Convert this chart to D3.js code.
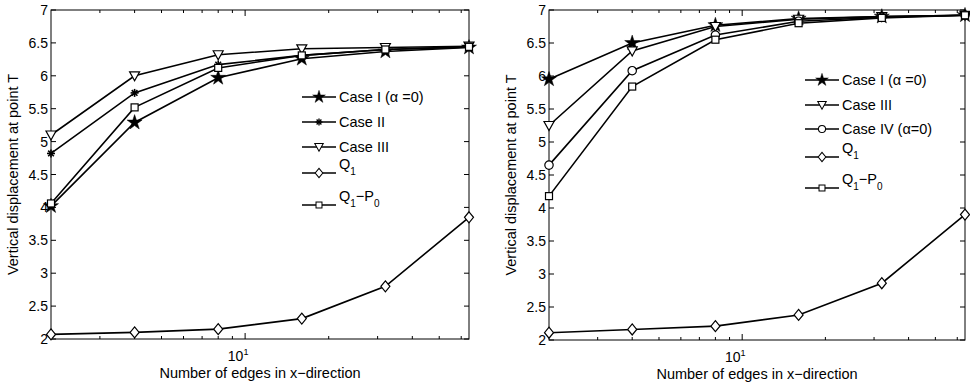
<!DOCTYPE html>
<html>
<head>
<meta charset="utf-8">
<script src="https://cdn.jsdelivr.net/npm/d3@7"></script>
<style>
  body { margin: 0; background: #fff; }
  svg { font-family: "Liberation Sans", Arial, sans-serif; }
</style>
</head>
<body>
<svg id="chart" width="970" height="385"></svg>
<script>
// [A] Datos ------------------------------------------------------------------
const edges = [2, 4, 8, 16, 32, 64];
const yTicks = [2, 2.5, 3, 3.5, 4, 4.5, 5, 5.5, 6, 6.5, 7];

// Panel izquierdo
const leftCaseI   = [4.02, 5.29, 5.97, 6.26, 6.37, 6.43];
const leftCaseII  = [4.82, 5.74, 6.17, 6.31, 6.40, 6.44];
const leftCaseIII = [5.10, 6.00, 6.32, 6.41, 6.43, 6.45];
const leftQ1      = [2.07, 2.10, 2.15, 2.31, 2.80, 3.85];
const leftQ1P0    = [4.06, 5.52, 6.12, 6.31, 6.40, 6.44];

// Panel derecho
const rightCaseI   = [5.95, 6.50, 6.77, 6.87, 6.90, 6.92];
const rightCaseIII = [5.25, 6.38, 6.75, 6.86, 6.90, 6.92];
const rightCaseIV  = [4.65, 6.08, 6.62, 6.83, 6.89, 6.92];
const rightQ1      = [2.11, 2.16, 2.21, 2.38, 2.86, 3.90];
const rightQ1P0    = [4.18, 5.84, 6.55, 6.80, 6.88, 6.92];

const panels = [
  {
    box: { x0: 51, x1: 469, y0: 10, y1: 339 },
    legend: { x: 302, rows: [97, 122, 147, 173, 205] },
    series: [
      { name: ["Case I (\u03b1 =0)"], marker: "star", values: leftCaseI },
      { name: ["Case II"], marker: "asterisk", values: leftCaseII },
      { name: ["Case III"], marker: "triangle", values: leftCaseIII },
      { name: ["Q", "1"], marker: "diamond", values: leftQ1 },
      { name: ["Q", "1", "\u2212P", "0"], marker: "square", values: leftQ1P0 }
    ]
  },
  {
    box: { x0: 549, x1: 965, y0: 10, y1: 340 },
    legend: { x: 805, rows: [80, 105, 129, 157, 188] },
    series: [
      { name: ["Case I (\u03b1 =0)"], marker: "star", values: rightCaseI },
      { name: ["Case III"], marker: "triangle", values: rightCaseIII },
      { name: ["Case IV (\u03b1=0)"], marker: "circle", values: rightCaseIV },
      { name: ["Q", "1"], marker: "diamond", values: rightQ1 },
      { name: ["Q", "1", "\u2212P", "0"], marker: "square", values: rightQ1P0 }
    ]
  }
];

const svg = d3.select("#chart");

// [B] Marcadores estilo MATLAB -------------------------------------------------
function drawMarker(g, type, x, y, k = 1) {
  const m = g.append("g").attr("transform", `translate(${x},${y}) scale(${k})`);
  if (type === "star") {
    m.append("path").attr("d", d3.symbol(d3.symbolStar, 70)())
      .attr("fill", "#000").attr("stroke", "#000").attr("stroke-width", 0.5);
  } else if (type === "asterisk") {
    const r = 4;
    [0, 45, 90, 135].forEach(a => {
      const rad = a * Math.PI / 180;
      m.append("line")
        .attr("x1", -r * Math.cos(rad)).attr("y1", -r * Math.sin(rad))
        .attr("x2", r * Math.cos(rad)).attr("y2", r * Math.sin(rad))
        .attr("stroke", "#000").attr("stroke-width", 1.6);
    });
  } else if (type === "triangle") {
    m.append("path").attr("d", "M-5,-4L5,-4L0,5Z")
      .attr("fill", "#fff").attr("stroke", "#000").attr("stroke-width", 1.2);
  } else if (type === "diamond") {
    m.append("path").attr("d", "M0,-5.5L4.5,0L0,5.5L-4.5,0Z")
      .attr("fill", "#fff").attr("stroke", "#000").attr("stroke-width", 1.2);
  } else if (type === "square") {
    m.append("rect").attr("x", -3.5).attr("y", -3.5).attr("width", 7).attr("height", 7)
      .attr("fill", "#fff").attr("stroke", "#000").attr("stroke-width", 1.2);
  } else if (type === "circle") {
    m.append("circle").attr("r", 4.2)
      .attr("fill", "#fff").attr("stroke", "#000").attr("stroke-width", 1.2);
  }
}

// [C] Dibuja cada panel ---------------------------------------------------------
panels.forEach(panel => {
  const { box } = panel;
  const g = svg.append("g");

  const x = d3.scaleLog().domain([2, 64]).range([box.x0, box.x1]);
  const y = d3.scaleLinear().domain([2, 7]).range([box.y1, box.y0]);

  // Marco
  g.append("rect")
    .attr("x", box.x0).attr("y", box.y0)
    .attr("width", box.x1 - box.x0).attr("height", box.y1 - box.y0)
    .attr("fill", "none").attr("stroke", "#000").attr("stroke-width", 1);

  // Ticks Y (izquierda y derecha, hacia dentro)
  yTicks.forEach(t => {
    const yy = y(t);
    g.append("line").attr("x1", box.x0).attr("x2", box.x0 + 5)
      .attr("y1", yy).attr("y2", yy).attr("stroke", "#000");
    g.append("line").attr("x1", box.x1).attr("x2", box.x1 - 5)
      .attr("y1", yy).attr("y2", yy).attr("stroke", "#000");
    g.append("text")
      .attr("x", box.x0 - 3).attr("y", yy + 5)
      .attr("text-anchor", "end").attr("font-size", 14)
      .text(d3.format("")(t));
  });

  // Ticks X (log, menores y mayor en 10)
  const xMinor = [3, 4, 5, 6, 7, 8, 9, 20, 30, 40, 50, 60];
  xMinor.forEach(t => {
    const xx = x(t);
    g.append("line").attr("x1", xx).attr("x2", xx)
      .attr("y1", box.y1).attr("y2", box.y1 - 3).attr("stroke", "#000");
    g.append("line").attr("x1", xx).attr("x2", xx)
      .attr("y1", box.y0).attr("y2", box.y0 + 3).attr("stroke", "#000");
  });
  const x10 = x(10);
  g.append("line").attr("x1", x10).attr("x2", x10)
    .attr("y1", box.y1).attr("y2", box.y1 - 6).attr("stroke", "#000");
  g.append("line").attr("x1", x10).attr("x2", x10)
    .attr("y1", box.y0).attr("y2", box.y0 + 6).attr("stroke", "#000");
  const lbl = g.append("text")
    .attr("x", x10 - 7).attr("y", box.y1 + 22)
    .attr("text-anchor", "middle").attr("font-size", 14);
  lbl.append("tspan").text("10");
  lbl.append("tspan").attr("dy", -6).attr("font-size", 9).text("1");

  // Etiquetas de ejes
  g.append("text")
    .attr("x", (box.x0 + box.x1) / 2).attr("y", box.y1 + 39)
    .attr("text-anchor", "middle").attr("font-size", 14.5)
    .text("Number of edges in x\u2212direction");
  g.append("text")
    .attr("transform", `translate(${box.x0 - 33},${(box.y0 + box.y1) / 2}) rotate(-90)`)
    .attr("text-anchor", "middle").attr("font-size", 14.5)
    .text("Vertical displacement at point T");

  // Series
  const line = d3.line().x((d, i) => x(edges[i])).y(d => y(d));
  panel.series.forEach(s => {
    g.append("path").attr("d", line(s.values))
      .attr("fill", "none").attr("stroke", "#000").attr("stroke-width", 1.6);
  });
  panel.series.forEach(s => {
    s.values.forEach((v, i) => drawMarker(g, s.marker, x(edges[i]), y(v)));
  });

  // Leyenda
  panel.series.forEach((s, i) => {
    const ly = panel.legend.rows[i];
    const lx = panel.legend.x;
    g.append("line").attr("x1", lx).attr("x2", lx + 34)
      .attr("y1", ly).attr("y2", ly)
      .attr("stroke", "#000").attr("stroke-width", 1.6);
    drawMarker(g, s.marker, lx + 17, ly, 0.85);
    const tx = g.append("text").attr("x", lx + 37).attr("font-size", 14.5);
    if (s.name.length === 1) {
      tx.attr("y", ly + 5).text(s.name[0]);
    } else {
      tx.attr("y", ly - 4);
      s.name.forEach((part, k) => {
        const sub = k % 2 === 1;
        tx.append("tspan")
          .attr("dy", sub ? 6 : (k === 0 ? 0 : -6))
          .attr("font-size", sub ? 10 : 14.5)
          .text(part);
      });
    }
  });
});
</script>
</body>
</html>
